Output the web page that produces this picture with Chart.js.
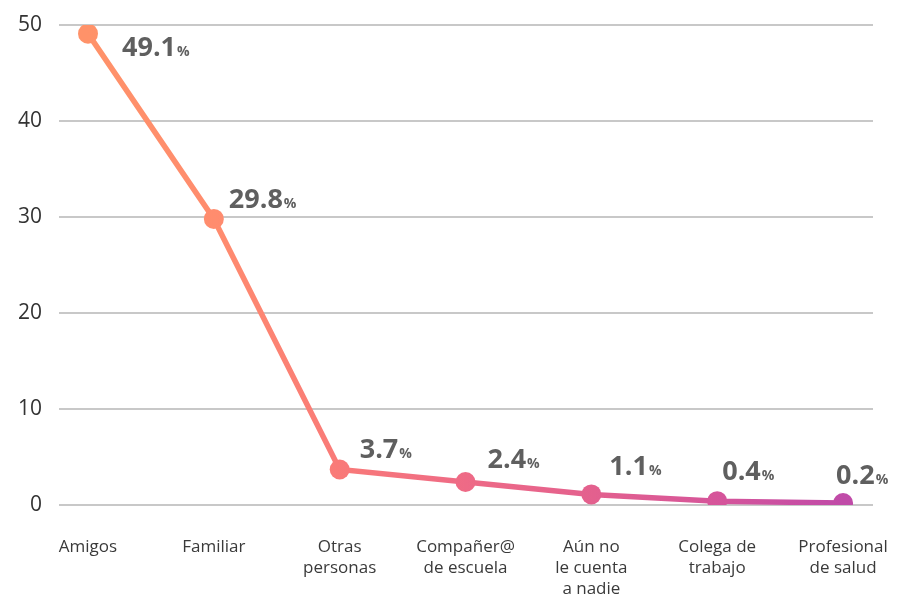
<!DOCTYPE html>
<html>
<head>
<meta charset="utf-8">
<script src="https://cdn.jsdelivr.net/npm/chart.js@4"></script>
<style>
  html, body { margin: 0; padding: 0; background: #fff; }
  #wrap { width: 903px; height: 597px; }
</style>
</head>
<body>
<div id="wrap"><canvas id="lineChart"></canvas></div>
<script>
// data
var categories = [
    ['Amigos'],
    ['Familiar'],
    ['Otras', 'personas'],
    ['Compañer@', 'de escuela'],
    ['Aún no', 'le cuenta', 'a nadie'],
    ['Colega de', 'trabajo'],
    ['Profesional', 'de salud']
];
var percentages = [49.1, 29.8, 3.7, 2.4, 1.1, 0.4, 0.2];
var yTicks = [0, 10, 20, 30, 40, 50];

// label offsets from each point (text left, baseline)
var labelOffsets = [[34, 22], [15, -11], [20, -11], [22, -14], [18, -19], [5, -21], [-7, -19]];

var gradCache = null;
function lineGradient(chart) {
    var area = chart.chartArea;
    if (!area) return '#FF8F6B';
    var xs = chart.scales.x;
    var x0 = xs.getPixelForValue(0), x1 = xs.getPixelForValue(categories.length - 1);
    if (gradCache && gradCache.key === x0 + ':' + x1) return gradCache.g;
    var g = chart.ctx.createLinearGradient(x0, 0, x1, 0);
    g.addColorStop(0, '#FF9269');
    g.addColorStop(0.17, '#FF8C6E');
    g.addColorStop(0.33, '#F97A78');
    g.addColorStop(0.5, '#EE6A86');
    g.addColorStop(0.67, '#E3608E');
    g.addColorStop(0.83, '#D6559A');
    g.addColorStop(1, '#C04BA8');
    gradCache = { key: x0 + ':' + x1, g: g };
    return g;
}

var valueLabels = {
    id: 'valueLabels',
    afterDatasetsDraw: function (chart) {
        var ctx = chart.ctx;
        var meta = chart.getDatasetMeta(0);
        ctx.save();
        ctx.fillStyle = '#5f5f5f';
        ctx.textBaseline = 'alphabetic';
        ctx.textAlign = 'left';
        meta.data.forEach(function (pt, i) {
            var txt = percentages[i].toFixed(1);
            var x = pt.x + labelOffsets[i][0];
            var y = pt.y + labelOffsets[i][1];
            ctx.font = 'bold 27px "Open Sans"';
            ctx.fillText(txt, x, y);
            var w = ctx.measureText(txt).width;
            ctx.font = 'bold 14px "Open Sans"';
            ctx.fillText('%', x + w + 1, y);
        });
        ctx.restore();
    }
};

var ctx = document.getElementById('lineChart').getContext('2d');
var myChart = new Chart(ctx, {
    type: 'line',
    data: {
        datasets: [{
            data: percentages.map(function (v, i) { return { x: i, y: v }; }),
            borderColor: function (c) { return lineGradient(c.chart); },
            backgroundColor: function (c) { return lineGradient(c.chart); },
            pointBackgroundColor: function (c) { return lineGradient(c.chart); },
            pointBorderColor: function (c) { return lineGradient(c.chart); },
            borderWidth: 5.5,
            pointRadius: 10,
            pointBorderWidth: 0,
            pointHoverRadius: 10,
            tension: 0
        }]
    },
    options: {
        responsive: true,
        maintainAspectRatio: false,
        animation: false,
        layout: { padding: { top: 25, right: 30, left: 0, bottom: 0 } },
        plugins: { legend: { display: false }, tooltip: { enabled: false } },
        scales: {
            x: {
                type: 'linear',
                min: -0.2305,
                max: 6.238,
                grid: { display: false },
                border: { display: false },
                afterBuildTicks: function (axis) {
                    axis.ticks = categories.map(function (c, i) { return { value: i }; });
                },
                afterFit: function (axis) {
                    axis.height = 92;
                    axis.paddingLeft = 0;
                    axis.paddingRight = 0;
                },
                ticks: {
                    autoSkip: false,
                    maxRotation: 0,
                    padding: 24,
                    color: '#3a3a3a',
                    font: { family: 'Open Sans', size: 17, lineHeight: 1.235 },
                    callback: function (v) { return categories[v]; }
                }
            },
            y: {
                min: 0,
                max: 50,
                afterBuildTicks: function (axis) {
                    axis.ticks = yTicks.map(function (v) { return { value: v }; });
                },
                afterFit: function (axis) {
                    axis.width = 59;
                    axis.paddingTop = 0;
                    axis.paddingBottom = 0;
                },
                grid: { color: '#c8c8c8', lineWidth: 2, drawTicks: false },
                border: { display: false },
                ticks: {
                    padding: 17,
                    color: '#333',
                    font: { family: 'Open Sans', size: 21 }
                }
            }
        }
    },
    plugins: [valueLabels]
});
</script>
</body>
</html>
